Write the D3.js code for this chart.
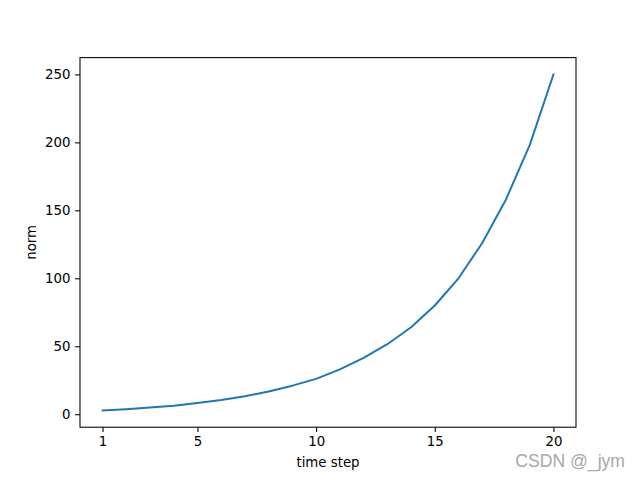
<!doctype html>
<html>
<head>
<meta charset="UTF-8">
<script src="https://cdn.jsdelivr.net/npm/d3@7"></script>
<style>
  body { margin: 0; background: #fff; }
  svg text { font-family: "DejaVu Sans", sans-serif; }
</style>
</head>
<body>
<svg id="chart" width="640" height="480"></svg>
<script>
// data
var steps = [1,2,3,4,5,6,7,8,9,10,11,12,13,14,15,16,17,18,19,20];
var norms = [2.8,3.7,4.9,6.3,8.2,10.4,13.2,16.7,21,26,33,41.4,51.5,64,80,100,126,158,198,250];
var xTicks = [1,5,10,15,20];
var yTicks = [0,50,100,150,200,250];

// plot area (window.top is reserved, so use other names)
var pLeft = 80, pRight = 576, pTop = 57.6, pBottom = 427.2;
var svg = d3.select("#chart");

// matplotlib style 5% margins
var xmin = d3.min(steps), xmax = d3.max(steps);
var ymin = d3.min(norms), ymax = d3.max(norms);
var xm = (xmax - xmin) * 0.05, ym = (ymax - ymin) * 0.05;

var x = d3.scaleLinear().domain([xmin - xm, xmax + xm]).range([pLeft, pRight]);
var y = d3.scaleLinear().domain([ymin - ym, ymax + ym]).range([pBottom, pTop]);

var line = d3.line()
    .x(function(d, i){ return x(steps[i]); })
    .y(function(d){ return y(d); });

svg.append("path")
    .datum(norms)
    .attr("d", line)
    .attr("fill", "none")
    .attr("stroke", "#1f77b4")
    .attr("stroke-width", 2)
    .attr("stroke-linejoin", "round")
    .attr("stroke-linecap", "square");

var xAxis = svg.append("g")
    .attr("transform", "translate(0," + pBottom + ")")
    .call(d3.axisBottom(x).tickValues(xTicks).tickSize(4.9).tickPadding(4.7));
var yAxis = svg.append("g")
    .attr("transform", "translate(" + pLeft + ",0)")
    .call(d3.axisLeft(y).tickValues(yTicks).tickSize(4.9).tickPadding(4.7));

[xAxis, yAxis].forEach(function(g){
  g.select(".domain").remove();
  g.selectAll("line").attr("stroke", "#000").attr("stroke-width", 1.07);
  g.selectAll("text").attr("font-size", "13.33px").attr("fill", "#000")
    .style("font-family", "DejaVu Sans, sans-serif");
});

// frame
svg.append("rect")
    .attr("x", pLeft).attr("y", pTop)
    .attr("width", pRight - pLeft).attr("height", pBottom - pTop)
    .attr("fill", "none").attr("stroke", "#000").attr("stroke-width", 1.07);

svg.append("text")
    .attr("x", (pLeft + pRight) / 2).attr("y", 467)
    .attr("text-anchor", "middle")
    .attr("font-size", "13.33px")
    .text("time step");

svg.append("text")
    .attr("transform", "translate(36," + (pTop + pBottom) / 2 + ") rotate(-90)")
    .attr("text-anchor", "middle")
    .attr("font-size", "13.33px")
    .text("norm");

// watermark
svg.append("text")
    .attr("x", 625).attr("y", 467)
    .attr("text-anchor", "end")
    .attr("font-size", "17.6px")
    .style("font-family", "Liberation Sans, Arial, sans-serif")
    .attr("fill", "#a8a8a8")
    .attr("stroke", "#fff").attr("stroke-width", 0.6)
    .attr("paint-order", "stroke")
    .text("CSDN @_jym");
</script>
</body>
</html>
